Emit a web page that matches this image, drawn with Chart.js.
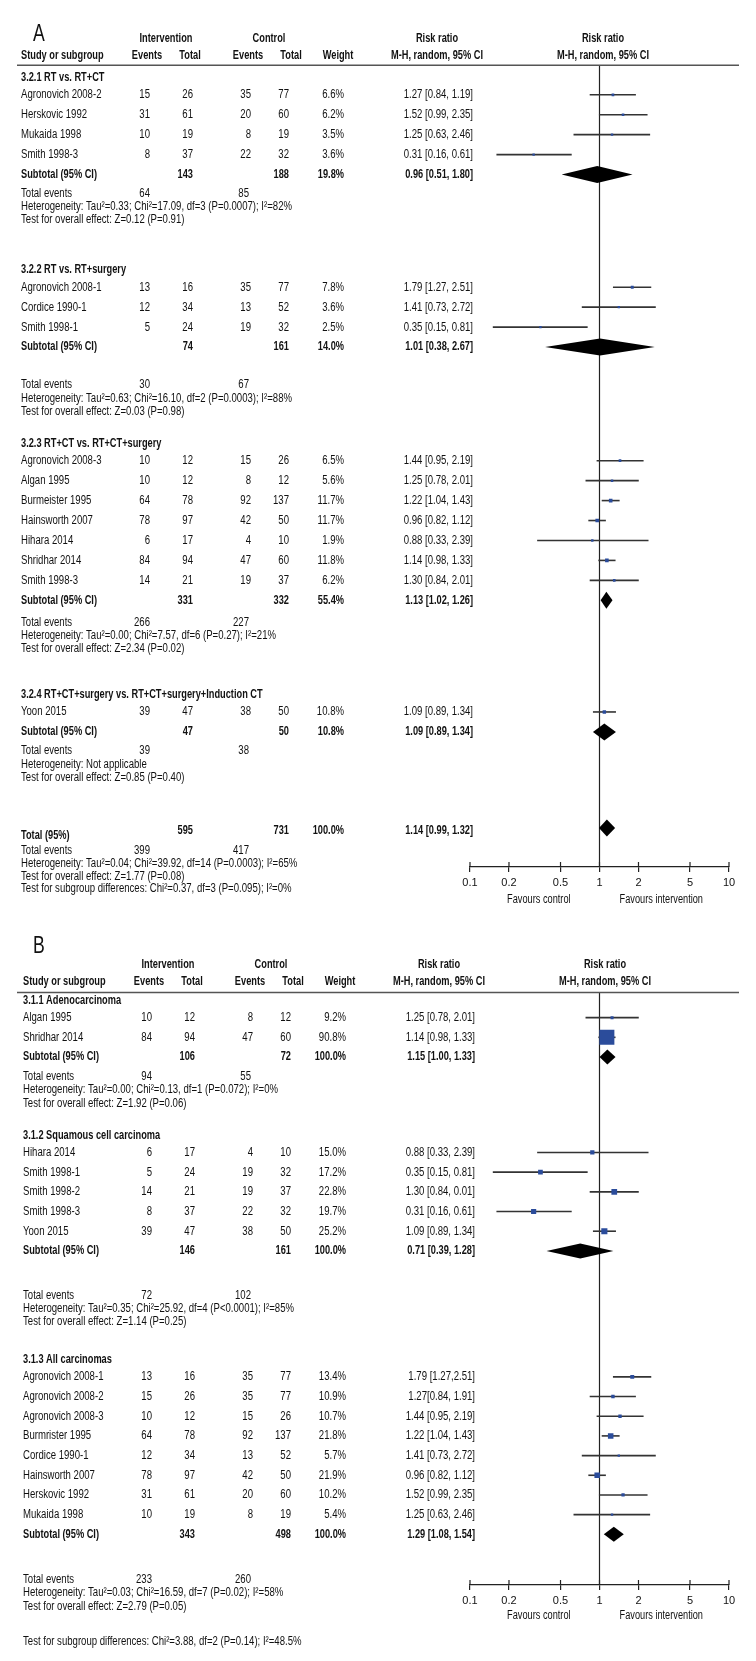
<!DOCTYPE html>
<html>
<head>
<meta charset="utf-8">
<script src="https://cdn.jsdelivr.net/npm/chart.js@4.4.0/dist/chart.umd.min.js"></script>
<style>
html, body { margin: 0; padding: 0; background: #fff; }
#wrap { position: relative; width: 756px; height: 1661px; }
.box { position: absolute; left: 0; width: 756px; }
</style>
</head>
<body>
<div id="wrap">
  <div class="box" style="top:0;height:915px"><canvas id="chartA"></canvas></div>
  <div class="box" style="top:915px;height:746px"><canvas id="chartB"></canvas></div>
</div>
<script>
// ---- panel A data ----
var studyA = ['Agronovich 2008-2', 'Herskovic 1992', 'Mukaida 1998', 'Smith 1998-3',
  'Agronovich 2008-1', 'Cordice 1990-1', 'Smith 1998-1',
  'Agronovich 2008-3', 'Algan 1995', 'Burmeister 1995', 'Hainsworth 2007', 'Hihara 2014', 'Shridhar 2014', 'Smith 1998-3',
  'Yoon 2015'];
var groupOfA = [0, 0, 0, 0, 1, 1, 1, 2, 2, 2, 2, 2, 2, 2, 3];
var evIntA = [15, 31, 10, 8, 13, 12, 5, 10, 10, 64, 78, 6, 84, 14, 39];
var totIntA = [26, 61, 19, 37, 16, 34, 24, 12, 12, 78, 97, 17, 94, 21, 47];
var evCtlA = [35, 20, 8, 22, 35, 13, 19, 15, 8, 92, 42, 4, 47, 19, 38];
var totCtlA = [77, 60, 19, 32, 77, 52, 32, 26, 12, 137, 50, 10, 60, 37, 50];
var weightA = [6.6, 6.2, 3.5, 3.6, 7.8, 3.6, 2.5, 6.5, 5.6, 11.7, 11.7, 1.9, 11.8, 6.2, 10.8];
var rrA = [1.27, 1.52, 1.25, 0.31, 1.79, 1.41, 0.35, 1.44, 1.25, 1.22, 0.96, 0.88, 1.14, 1.30, 1.09];
var loA = [0.84, 0.99, 0.63, 0.16, 1.27, 0.73, 0.15, 0.95, 0.78, 1.04, 0.82, 0.33, 0.98, 0.84, 0.89];
var hiA = [1.91, 2.35, 2.46, 0.61, 2.51, 2.72, 0.81, 2.19, 2.01, 1.43, 1.12, 2.39, 1.33, 2.01, 1.34];
var ciTextA = ['1.27 [0.84, 1.19]', '1.52 [0.99, 2.35]', '1.25 [0.63, 2.46]', '0.31 [0.16, 0.61]',
  '1.79 [1.27, 2.51]', '1.41 [0.73, 2.72]', '0.35 [0.15, 0.81]',
  '1.44 [0.95, 2.19]', '1.25 [0.78, 2.01]', '1.22 [1.04, 1.43]', '0.96 [0.82, 1.12]', '0.88 [0.33, 2.39]', '1.14 [0.98, 1.33]', '1.30 [0.84, 2.01]',
  '1.09 [0.89, 1.34]'];
var subNameA = ['3.2.1 RT vs. RT+CT', '3.2.2 RT vs. RT+surgery', '3.2.3 RT+CT vs. RT+CT+surgery', '3.2.4 RT+CT+surgery vs. RT+CT+surgery+Induction CT'];
var subTotIntA = [143, 74, 331, 47];
var subTotCtlA = [188, 161, 332, 50];
var subWeightA = [19.8, 14.0, 55.4, 10.8];
var subRrA = [0.96, 1.01, 1.13, 1.09];
var subLoA = [0.51, 0.38, 1.02, 0.89];
var subHiA = [1.80, 2.67, 1.26, 1.34];
var subCiTextA = ['0.96 [0.51, 1.80]', '1.01 [0.38, 2.67]', '1.13 [1.02, 1.26]', '1.09 [0.89, 1.34]'];
var subEvIntA = [64, 30, 266, 39];
var subEvCtlA = [85, 67, 227, 38];
var hetA = ['Heterogeneity: Tau\u00b2=0.33; Chi\u00b2=17.09, df=3 (P=0.0007); I\u00b2=82%',
  'Heterogeneity: Tau\u00b2=0.63; Chi\u00b2=16.10, df=2 (P=0.0003); I\u00b2=88%',
  'Heterogeneity: Tau\u00b2=0.00; Chi\u00b2=7.57, df=6 (P=0.27); I\u00b2=21%',
  'Heterogeneity: Not applicable'];
var effA = ['Test for overall effect: Z=0.12 (P=0.91)', 'Test for overall effect: Z=0.03 (P=0.98)',
  'Test for overall effect: Z=2.34 (P=0.02)', 'Test for overall effect: Z=0.85 (P=0.40)'];
var totalA = [595, 731, 100.0];          // int total, ctl total, weight
var totalEventsA = [399, 417];
var totalCiA = [1.14, 0.99, 1.32];       // rr, lo, hi
var totalCiTextA = '1.14 [0.99, 1.32]';
var totalStatsA = ['Heterogeneity: Tau\u00b2=0.04; Chi\u00b2=39.92, df=14 (P=0.0003); I\u00b2=65%',
  'Test for overall effect: Z=1.77 (P=0.08)'];
var subDiffA = 'Test for subgroup differences: Chi\u00b2=0.37, df=3 (P=0.095); I\u00b2=0%';

// ---- panel B data ----
var studyB = ['Algan 1995', 'Shridhar 2014',
  'Hihara 2014', 'Smith 1998-1', 'Smith 1998-2', 'Smith 1998-3', 'Yoon 2015',
  'Agronovich 2008-1', 'Agronovich 2008-2', 'Agronovich 2008-3', 'Burmrister 1995', 'Cordice 1990-1', 'Hainsworth 2007', 'Herskovic 1992', 'Mukaida 1998'];
var groupOfB = [0, 0, 1, 1, 1, 1, 1, 2, 2, 2, 2, 2, 2, 2, 2];
var evIntB = [10, 84, 6, 5, 14, 8, 39, 13, 15, 10, 64, 12, 78, 31, 10];
var totIntB = [12, 94, 17, 24, 21, 37, 47, 16, 26, 12, 78, 34, 97, 61, 19];
var evCtlB = [8, 47, 4, 19, 19, 22, 38, 35, 35, 15, 92, 13, 42, 20, 8];
var totCtlB = [12, 60, 10, 32, 37, 32, 50, 77, 77, 26, 137, 52, 50, 60, 19];
var weightB = [9.2, 90.8, 15.0, 17.2, 22.8, 19.7, 25.2, 13.4, 10.9, 10.7, 21.8, 5.7, 21.9, 10.2, 5.4];
var rrB = [1.25, 1.14, 0.88, 0.35, 1.30, 0.31, 1.09, 1.79, 1.27, 1.44, 1.22, 1.41, 0.96, 1.52, 1.25];
var loB = [0.78, 0.98, 0.33, 0.15, 0.84, 0.16, 0.89, 1.27, 0.84, 0.95, 1.04, 0.73, 0.82, 0.99, 0.63];
var hiB = [2.01, 1.33, 2.39, 0.81, 2.01, 0.61, 1.34, 2.51, 1.91, 2.19, 1.43, 2.72, 1.12, 2.35, 2.46];
var ciTextB = ['1.25 [0.78, 2.01]', '1.14 [0.98, 1.33]',
  '0.88 [0.33, 2.39]', '0.35 [0.15, 0.81]', '1.30 [0.84, 0.01]', '0.31 [0.16, 0.61]', '1.09 [0.89, 1.34]',
  '1.79 [1.27,2.51]', '1.27[0.84, 1.91]', '1.44 [0.95, 2.19]', '1.22 [1.04, 1.43]', '1.41 [0.73, 2.72]', '0.96 [0.82, 1.12]', '1.52 [0.99, 2.35]', '1.25 [0.63, 2.46]'];
var subNameB = ['3.1.1 Adenocarcinoma', '3.1.2 Squamous cell carcinoma', '3.1.3 All carcinomas'];
var subTotIntB = [106, 146, 343];
var subTotCtlB = [72, 161, 498];
var subWeightB = [100.0, 100.0, 100.0];
var subRrB = [1.15, 0.71, 1.29];
var subLoB = [1.00, 0.39, 1.08];
var subHiB = [1.33, 1.28, 1.54];
var subCiTextB = ['1.15 [1.00, 1.33]', '0.71 [0.39, 1.28]', '1.29 [1.08, 1.54]'];
var subEvIntB = [94, 72, 233];
var subEvCtlB = [55, 102, 260];
var hetB = ['Heterogeneity: Tau\u00b2=0.00; Chi\u00b2=0.13, df=1 (P=0.072); I\u00b2=0%',
  'Heterogeneity: Tau\u00b2=0.35; Chi\u00b2=25.92, df=4 (P<0.0001); I\u00b2=85%',
  'Heterogeneity: Tau\u00b2=0.03; Chi\u00b2=16.59, df=7 (P=0.02); I\u00b2=58%'];
var effB = ['Test for overall effect: Z=1.92 (P=0.06)', 'Test for overall effect: Z=1.14 (P=0.25)',
  'Test for overall effect: Z=2.79 (P=0.05)'];
var subDiffB = 'Test for subgroup differences: Chi\u00b2=3.88, df=2 (P=0.14); I\u00b2=48.5%';

// ---- axis ----
var tickVals = [0.1, 0.2, 0.5, 1, 2, 5, 10];
var favoursText = ['Favours control', 'Favours intervention'];

var FONT = "'Liberation Sans', Arial, sans-serif";
var FS = 12.5;
var INK = '#111';
var BLUE = '#2b4c9b';

// the reference uses a condensed face; squeeze a normal one horizontally
var SX = 0.75, SXB = 0.72;
(function () {
  var c = document.createElement('canvas').getContext('2d');
  c.font = FS + 'px ' + FONT;
  var w = c.measureText(hetA[0]).width;
  if (w > 0) SX = 271 / w;
  c.font = 'bold ' + FS + 'px ' + FONT;
  var wb = c.measureText('Subtotal (95% CI)').width;
  if (wb > 0) SXB = 76 / wb;
})();

// page layout (pixels, page coordinates)
var layoutA = {
  letter: 'A', top: 0, axis: 867, letterY: 32, head1: 36, head2: 53, rule: 63,
  groupHead: [75, 268, 442, 694], firstOff: 17.5, rowH: 20, statsGap: [19, 38, 22, 19], lineH: 13.3,
  totalY: 830, totalLabelY: 835, totalStatsY: 850, subDiffY: 889, favY: 900,
  dx: 0, diamondH: 8.5, sqK: 1.05, sqE: 0.5, axisH: 48
};
var layoutB = {
  letter: 'B', top: 915, axis: 1585, letterY: 936, head1: 955, head2: 972, rule: 983,
  groupHead: [991, 1128, 1356], firstOff: 17.5, rowH: 20, statsGap: [20, 45, 46], lineH: 13.5,
  subDiffY: 1642, favY: 1616,
  dx: 2, diamondH: 7.5, sqK: 0.64, sqE: 0.7, axisH: 76
};
var cols = { name: 21, evI: 150, totI: 193, evC: 251, totC: 289, wt: 344, ci: 473,
  intH: 166, ctlH: 269, evIH: 147, totIH: 190, evCH: 248, totCH: 291, wtH: 338, rrH: 437, plotH: 603 };
var favX = [0.34, 3.0];

function fmtW(w) { return w.toFixed(1) + '%'; }

function makeForest(id, P, L) {
  // row positions
  var rowY = [], subY = [], statY = [];
  for (var g = 0; g < P.subName.length; g++) {
    var y = L.groupHead[g] + L.firstOff;
    for (var i = 0; i < P.study.length; i++) {
      if (P.group[i] === g) { rowY[i] = y; y += L.rowH; }
    }
    subY.push(y);
    statY.push(y + L.statsGap[g]);
  }

  function txt(ctx, s, x, y, align, bold, size) {
    ctx.save();
    ctx.font = (bold ? 'bold ' : '') + (size || FS) + 'px ' + FONT;
    ctx.textAlign = align;
    ctx.translate(x, y);
    ctx.scale(bold ? SXB : SX, 1);
    ctx.fillText(s, 0, 0);
    ctx.restore();
  }
  function diamond(ctx, xs, py, r, lo, hi, h) {
    ctx.beginPath();
    ctx.moveTo(xs(lo), py);
    ctx.lineTo(xs(r), py - h);
    ctx.lineTo(xs(hi), py);
    ctx.lineTo(xs(r), py + h);
    ctx.closePath();
    ctx.fill();
  }

  var plugin = {
    id: 'forest' + L.letter,
    beforeDatasetsDraw: function (chart) {
      var ctx = chart.ctx, sx = chart.scales.x, sy = chart.scales.y;
      ctx.save();
      var x1 = sx.getPixelForValue(1);
      ctx.strokeStyle = '#222';
      ctx.lineWidth = 1.2;
      ctx.beginPath();
      ctx.moveTo(x1, sy.getPixelForValue(L.rule));
      ctx.lineTo(x1, sy.getPixelForValue(L.axis));
      ctx.stroke();
      ctx.strokeStyle = '#333';
      ctx.lineWidth = 1.6;
      for (var i = 0; i < P.rr.length; i++) {
        var py = sy.getPixelForValue(rowY[i]);
        ctx.beginPath();
        ctx.moveTo(sx.getPixelForValue(P.lo[i]), py);
        ctx.lineTo(sx.getPixelForValue(P.hi[i]), py);
        ctx.stroke();
      }
      ctx.restore();
    },
    afterDatasetsDraw: function (chart) {
      var ctx = chart.ctx, sx = chart.scales.x, sy = chart.scales.y;
      var xs = function (v) { return sx.getPixelForValue(v); };
      ctx.save();
      ctx.fillStyle = '#000';
      for (var g = 0; g < P.subRr.length; g++) {
        diamond(ctx, xs, sy.getPixelForValue(subY[g]), P.subRr[g], P.subLo[g], P.subHi[g], L.diamondH);
      }
      if (P.totalCi) {
        diamond(ctx, xs, sy.getPixelForValue(L.totalY - 2), P.totalCi[0], P.totalCi[1], P.totalCi[2], L.diamondH);
      }
      ctx.restore();
    },
    afterDraw: function (chart) {
      var ctx = chart.ctx, sx = chart.scales.x, sy = chart.scales.y;
      var Y = function (v) { return sy.getPixelForValue(v); };
      var d = L.dx;
      ctx.save();
      ctx.fillStyle = INK;
      ctx.textBaseline = 'middle';
      txt(ctx, L.letter, 33, Y(L.letterY), 'left', false, 23);
      // column headers
      txt(ctx, 'Intervention', cols.intH + d, Y(L.head1), 'center', true);
      txt(ctx, 'Control', cols.ctlH + d, Y(L.head1), 'center', true);
      txt(ctx, 'Risk ratio', cols.rrH + d, Y(L.head1), 'center', true);
      txt(ctx, 'Risk ratio', cols.plotH + d, Y(L.head1), 'center', true);
      txt(ctx, 'Study or subgroup', cols.name + d, Y(L.head2), 'left', true);
      txt(ctx, 'Events', cols.evIH + d, Y(L.head2), 'center', true);
      txt(ctx, 'Total', cols.totIH + d, Y(L.head2), 'center', true);
      txt(ctx, 'Events', cols.evCH + d, Y(L.head2), 'center', true);
      txt(ctx, 'Total', cols.totCH + d, Y(L.head2), 'center', true);
      txt(ctx, 'Weight', cols.wtH + d, Y(L.head2), 'center', true);
      txt(ctx, 'M-H, random, 95% CI', cols.rrH + d, Y(L.head2), 'center', true);
      txt(ctx, 'M-H, random, 95% CI', cols.plotH + d, Y(L.head2), 'center', true);
      ctx.strokeStyle = '#555';
      ctx.lineWidth = 1.5;
      ctx.beginPath();
      ctx.moveTo(17, Y(L.rule));
      ctx.lineTo(739, Y(L.rule));
      ctx.stroke();

      // studies
      for (var i = 0; i < P.study.length; i++) {
        var py = Y(rowY[i]);
        txt(ctx, P.study[i], cols.name + d, py, 'left', false);
        txt(ctx, String(P.evI[i]), cols.evI + d, py, 'right', false);
        txt(ctx, String(P.totI[i]), cols.totI + d, py, 'right', false);
        txt(ctx, String(P.evC[i]), cols.evC + d, py, 'right', false);
        txt(ctx, String(P.totC[i]), cols.totC + d, py, 'right', false);
        txt(ctx, fmtW(P.weight[i]), cols.wt + d, py, 'right', false);
        txt(ctx, P.ciText[i], cols.ci + d, py, 'right', false);
      }
      // subgroups
      for (var g = 0; g < P.subName.length; g++) {
        txt(ctx, P.subName[g], cols.name + d, Y(L.groupHead[g]), 'left', true);
        var sy0 = Y(subY[g]);
        txt(ctx, 'Subtotal (95% CI)', cols.name + d, sy0, 'left', true);
        txt(ctx, String(P.subTotI[g]), cols.totI + d, sy0, 'right', true);
        txt(ctx, String(P.subTotC[g]), cols.totC + d, sy0, 'right', true);
        txt(ctx, fmtW(P.subWeight[g]), cols.wt + d, sy0, 'right', true);
        txt(ctx, P.subCiText[g], cols.ci + d, sy0, 'right', true);
        var st = statY[g];
        txt(ctx, 'Total events', cols.name + d, Y(st), 'left', false);
        txt(ctx, String(P.subEvI[g]), cols.evI + d, Y(st), 'right', false);
        txt(ctx, String(P.subEvC[g]), cols.evC - 2 + d, Y(st), 'right', false);
        txt(ctx, P.het[g], cols.name + d, Y(st + L.lineH), 'left', false);
        txt(ctx, P.eff[g], cols.name + d, Y(st + 2 * L.lineH), 'left', false);
      }
      // overall
      if (P.total) {
        txt(ctx, 'Total (95%)', cols.name + d, Y(L.totalLabelY), 'left', true);
        txt(ctx, String(P.total[0]), cols.totI + d, Y(L.totalY), 'right', true);
        txt(ctx, String(P.total[1]), cols.totC + d, Y(L.totalY), 'right', true);
        txt(ctx, fmtW(P.total[2]), cols.wt + d, Y(L.totalY), 'right', true);
        txt(ctx, P.totalCiText, cols.ci + d, Y(L.totalY), 'right', true);
        var ty = L.totalStatsY;
        txt(ctx, 'Total events', cols.name + d, Y(ty), 'left', false);
        txt(ctx, String(P.totalEvents[0]), cols.evI + d, Y(ty), 'right', false);
        txt(ctx, String(P.totalEvents[1]), cols.evC - 2 + d, Y(ty), 'right', false);
        txt(ctx, P.totalStats[0], cols.name + d, Y(ty + L.lineH), 'left', false);
        txt(ctx, P.totalStats[1], cols.name + d, Y(ty + 2 * L.lineH), 'left', false);
      }
      txt(ctx, P.subDiff, cols.name + d, Y(L.subDiffY), 'left', false);

      // upward half of the axis ticks
      var ay = Y(L.axis);
      ctx.strokeStyle = '#222';
      ctx.lineWidth = 1.2;
      sx.ticks.forEach(function (t) {
        var px = sx.getPixelForValue(t.value);
        ctx.beginPath();
        ctx.moveTo(px, ay - 5);
        ctx.lineTo(px, ay);
        ctx.stroke();
      });
      ctx.fillStyle = INK;
      txt(ctx, favoursText[0], sx.getPixelForValue(favX[0]), Y(L.favY), 'center', false, 12);
      txt(ctx, favoursText[1], sx.getPixelForValue(favX[1]), Y(L.favY), 'center', false, 12);
      ctx.restore();
    }
  };

  var radii = P.weight.map(function (w) {
    var side = Math.max(2.4, L.sqK * Math.pow(w, L.sqE));
    return side / Math.SQRT2;
  });

  return new Chart(document.getElementById(id), {
    type: 'scatter',
    data: {
      datasets: [{
        data: P.rr.map(function (r, i) { return { x: r, y: rowY[i] }; }),
        pointStyle: 'rect',
        pointRadius: radii,
        pointHoverRadius: radii,
        backgroundColor: BLUE,
        borderWidth: 0
      }]
    },
    options: {
      responsive: true,
      maintainAspectRatio: false,
      animation: false,
      events: [],
      layout: { padding: { left: 470, right: 27, top: 0, bottom: 0 } },
      plugins: { legend: { display: false }, tooltip: { enabled: false } },
      scales: {
        x: {
          type: 'logarithmic',
          min: 0.1,
          max: 10,
          position: 'bottom',
          afterBuildTicks: function (s) { s.ticks = tickVals.map(function (v) { return { value: v }; }); },
          afterFit: function (s) { s.height = L.axisH; },
          ticks: {
            autoSkip: false, maxRotation: 0, padding: 4, color: INK,
            font: { family: "'Liberation Sans Narrow', 'Liberation Sans', sans-serif", size: 11 },
            callback: function (v) { return String(v); }
          },
          grid: { drawOnChartArea: false, drawTicks: true, tickLength: 5, color: '#222', lineWidth: 1.2 },
          border: { display: true, color: '#222', width: 1.3 }
        },
        y: { type: 'linear', display: false, min: L.top, max: L.axis, reverse: true }
      }
    },
    plugins: [plugin]
  });
}

var panelA = {
  study: studyA, group: groupOfA, evI: evIntA, totI: totIntA, evC: evCtlA, totC: totCtlA,
  weight: weightA, rr: rrA, lo: loA, hi: hiA, ciText: ciTextA,
  subName: subNameA, subTotI: subTotIntA, subTotC: subTotCtlA, subWeight: subWeightA,
  subRr: subRrA, subLo: subLoA, subHi: subHiA, subCiText: subCiTextA,
  subEvI: subEvIntA, subEvC: subEvCtlA, het: hetA, eff: effA,
  total: totalA, totalEvents: totalEventsA, totalCi: totalCiA, totalCiText: totalCiTextA,
  totalStats: totalStatsA, subDiff: subDiffA
};
var panelB = {
  study: studyB, group: groupOfB, evI: evIntB, totI: totIntB, evC: evCtlB, totC: totCtlB,
  weight: weightB, rr: rrB, lo: loB, hi: hiB, ciText: ciTextB,
  subName: subNameB, subTotI: subTotIntB, subTotC: subTotCtlB, subWeight: subWeightB,
  subRr: subRrB, subLo: subLoB, subHi: subHiB, subCiText: subCiTextB,
  subEvI: subEvIntB, subEvC: subEvCtlB, het: hetB, eff: effB,
  subDiff: subDiffB
};

makeForest('chartA', panelA, layoutA);
makeForest('chartB', panelB, layoutB);
</script>
</body>
</html>
